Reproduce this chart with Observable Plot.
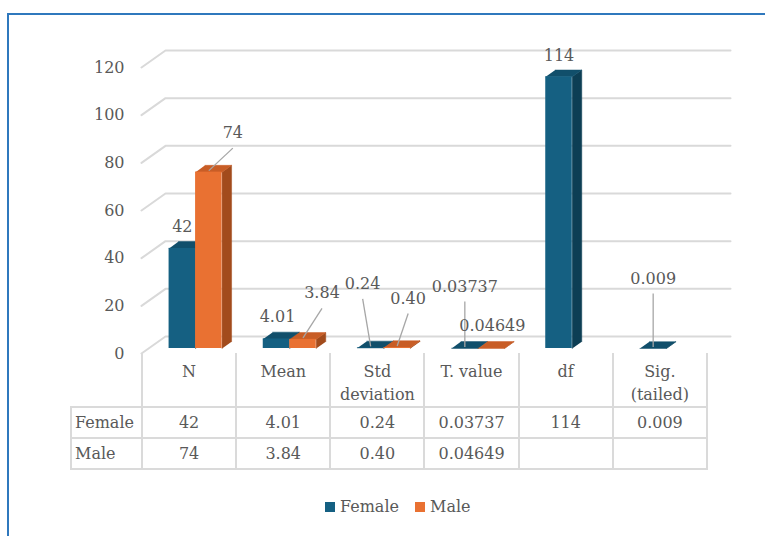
<!DOCTYPE html>
<html><head><meta charset="utf-8">
<script src="https://cdn.jsdelivr.net/npm/d3@7"></script>
<script src="https://cdn.jsdelivr.net/npm/@observablehq/plot@0.6"></script>
<style>
body{margin:0;background:#fff;font-family:"DejaVu Serif",serif;}
#wrap{position:relative;width:765px;height:536px;overflow:hidden;background:#fff;}
#frame{position:absolute;left:7px;top:13px;width:820px;height:620px;border-left:2px solid #2f78bd;border-top:2px solid #2f78bd;}
#chart{position:absolute;left:0;top:0;}
#tbl{position:absolute;left:70px;top:353px;border-collapse:collapse;table-layout:fixed;width:637px;color:#595959;font-size:16px;}
#tbl td{border:2px solid #dadada;text-align:center;padding:0;}
#tbl tr.head td{border-top:none;vertical-align:top;padding:7px 5px 0 5px;line-height:23px;height:43px;}
#tbl tr.head td.corner{border-left:none;}
#tbl tr.row td{height:29px;vertical-align:middle;}
#tbl tr.row td.name{text-align:left;padding-left:3px;}
#legend{position:absolute;left:325px;top:497px;font-size:16px;color:#595959;display:flex;align-items:center;}
#legend .sw{width:10px;height:10px;display:inline-block;margin-right:5px;}
#legend .item{display:flex;align-items:center;margin-right:16px;}
</style>
</head><body>
<div id="wrap"><div id="frame"></div><div id="chart"></div><table id="tbl"></table><div id="legend"></div></div>
<script>
const categories = ["N","Mean","Std deviation","T. value","df","Sig. (tailed)"];
const female = [42, 4.01, 0.24, 0.03737, 114, 0.009];
const male = [74, 3.84, 0.40, 0.04649, null, null];
const decimals = [0, 2, 2, 5, 0, 3];
const yTicks = [0, 20, 40, 60, 80, 100, 120];
const seriesNames = ["Female", "Male"];
const seriesValues = {Female: female, Male: male};
const seriesColors = {
  Female: {front: "#156082", top: "#114f6b", side: "#0d3e54"},
  Male: {front: "#e97132", top: "#c85d26", side: "#a24b1c"}
};
// label placement (pixel offsets from bar top, and whether a leader line is drawn)
const labelOffsets = {
  Female: [[0,-22,false],[1,-22,false],[-8,-64,true],[0,-62,true],[0,-21,false],[0,-70,true]],
  Male: [[24,-39,true],[19,-46,true],[11,-49,true],[1,-23,false],null,null]
};

// layout
const W = 765, H = 358, ML = 141, MR = 59, MT = 67, MB = 5;
const KX = (W - ML - MR) / categories.length;   // px per category unit
const KY = (H - MT - MB) / 120;                 // px per value unit
const ux = px => px / KX, uy = px => px / KY;
const barW = 26.5, frontDX = 7, frontDY = 5, depthDX = 9.5, depthDY = 6.8;
const gridDX = 24, gridDY = 17, gridEnd = 730;

const fronts = [], faces = [], labels = [], leaders = [];
categories.forEach((c, i) => {
  seriesNames.forEach((s, si) => {
    const v = seriesValues[s][i];
    if (v == null) return;
    const xl = i + ux(si === 0 ? frontDX - barW : frontDX);
    const xr = xl + ux(barW);
    const y0 = uy(frontDY), yt = v + uy(frontDY), yb = v + uy(frontDY + depthDY);
    const col = seriesColors[s];
    fronts.push({x1: xl, x2: xr, y1: y0, y2: yt, color: col.front});
    const key = s + i;
    [[xr, y0], [xr, yt], [xr + ux(depthDX), yb], [xr + ux(depthDX), uy(frontDY + depthDY)]]
      .forEach(([x, y]) => faces.push({x, y, z: "side" + key, color: col.side, order: 0}));
    [[xl, yt], [xr, yt], [xr + ux(depthDX), yb], [xl + ux(depthDX), yb]]
      .forEach(([x, y]) => faces.push({x, y, z: "top" + key, color: col.top, order: 1}));
    const off = labelOffsets[s][i];
    const cx = (xl + xr) / 2;
    labels.push({x: cx + ux(off[0]), y: yt + uy(-off[1]), text: v.toFixed(decimals[i])});
    if (off[2]) leaders.push({x1: cx + ux(off[0]), y1: yt + uy(-off[1] - 15), x2: cx, y2: yt + uy(1.5)});
  });
});
const sides = faces.filter(d => d.order === 0), tops = faces.filter(d => d.order === 1);

const grid = [];
yTicks.forEach(t => {
  grid.push({x: -0.5, y: t, z: t});
  grid.push({x: -0.5 + ux(gridDX), y: t + uy(gridDY), z: t});
  grid.push({x: -0.5 + ux(gridEnd - ML), y: t + uy(gridDY), z: t});
});

const plot = Plot.plot({
  width: W, height: H,
  marginLeft: ML, marginRight: MR, marginTop: MT, marginBottom: MB,
  x: {domain: [-0.5, categories.length - 0.5], axis: null},
  y: {domain: [0, 120], ticks: yTicks, tickSize: 0, tickPadding: 17, label: null},
  color: {type: "identity"},
  style: {fontFamily: "DejaVu Serif", fontSize: "16px", color: "#595959", background: "transparent", overflow: "visible"},
  marks: [
    Plot.line(grid, {x: "x", y: "y", z: "z", stroke: "#d9d9d9", strokeWidth: 2}),
    Plot.line(sides, {x: "x", y: "y", z: "z", fill: "color", stroke: "color", strokeWidth: 0.5}),
    Plot.line(tops, {x: "x", y: "y", z: "z", fill: "color", stroke: "color", strokeWidth: 0.5}),
    Plot.rect(fronts, {x1: "x1", x2: "x2", y1: "y1", y2: "y2", fill: "color"}),
    Plot.link(leaders, {x1: "x1", y1: "y1", x2: "x2", y2: "y2", stroke: "#a6a6a6", strokeWidth: 1.3}),
    Plot.text(labels, {x: "x", y: "y", text: "text", fill: "#595959", fontSize: 16})
  ]
});
document.getElementById("chart").appendChild(plot);

// data table
const tbl = d3.select("#tbl");
const cg = tbl.append("colgroup");
cg.append("col").style("width", (ML - 70) + "px");
categories.forEach(() => cg.append("col").style("width", KX + "px"));
const head = tbl.append("tr").attr("class", "head");
head.append("td").attr("class", "corner");
categories.forEach(c => head.append("td").text(c));
seriesNames.forEach(s => {
  const tr = tbl.append("tr").attr("class", "row");
  tr.append("td").attr("class", "name").text(s);
  seriesValues[s].forEach((v, i) => tr.append("td").text(v == null ? "" : v.toFixed(decimals[i])));
});

// legend
const lg = d3.select("#legend");
seriesNames.forEach(s => {
  const it = lg.append("span").attr("class", "item");
  it.append("span").attr("class", "sw").style("background", seriesColors[s].front);
  it.append("span").text(s);
});
</script>
</body></html>
